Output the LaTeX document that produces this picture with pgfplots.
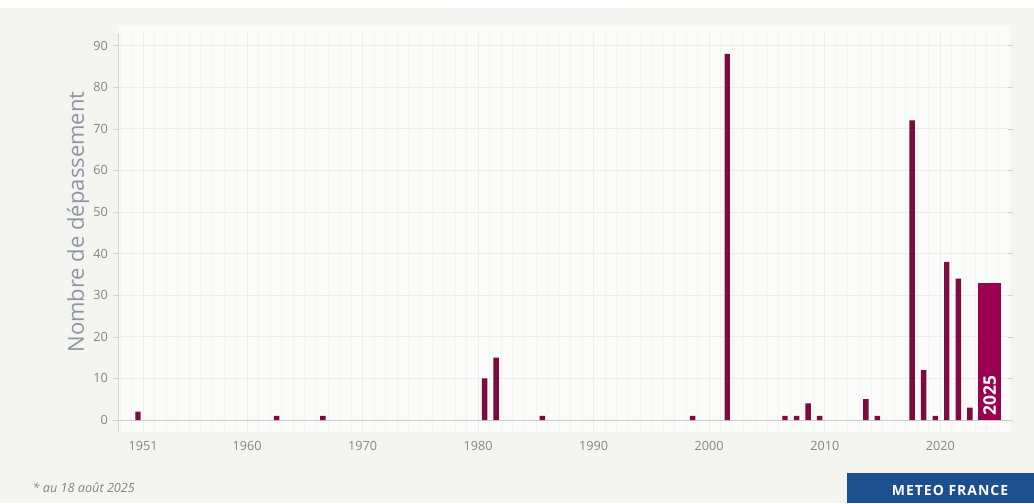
\documentclass[border=0pt]{standalone}
\usepackage{fontspec}
\setmainfont{Open Sans}
\usepackage{pgfplots}
\pgfplotsset{compat=1.18}
\definecolor{barc}{HTML}{7D0B3E}
\definecolor{barhl}{HTML}{9B0050}
\definecolor{mfblue}{HTML}{1D4F8E}
\definecolor{pagebg}{HTML}{F4F4F0}
\definecolor{plotbg}{HTML}{FBFBF9}
\definecolor{ticktxt}{HTML}{858585}
\definecolor{ylab}{HTML}{8E96A2}

\pgfplotstableread{
year value
1951 2
1963 1
1967 1
1981 10
1982 15
1986 1
1999 1
2002 88
2007 1
2008 1
2009 4
2010 1
2014 5
2015 1
2018 72
2019 12
2020 1
2021 38
2022 34
2023 3
}\datatable

\begin{document}
\begin{tikzpicture}[x=0.75pt,y=0.75pt]
\fill[pagebg] (0,0) rectangle (1034,503);
\fill[white] (0,495) rectangle (1034,503);
\fill[gray!8] (450,483) rectangle (618,495);
\fill[plotbg] (118,70.5) rectangle (1010,478);
\begin{axis}[at={(88.5pt,52.875pt)}, anchor=south west, scale only axis,
  width=667.5pt, height=299.6pt,
  xmin=1949.27, xmax=2026.3, ymin=-3, ymax=93,
  ytick={0,10,...,90},
  xtick={1951.44,1960.44,1970.44,1980.44,1990.44,2000.44,2010.44,2020.44},
  xticklabels={1951,1960,1970,1980,1990,2000,2010,2020},
  minor xtick={1949.44,1950.44,...,2026.44},
  axis line style={draw=none},
  ymajorgrids, xmajorgrids, xminorgrids,
  major grid style={draw=gray!14, line width=0.6pt},
  minor grid style={draw=gray!9, line width=0.6pt},
  xtick style={draw=none}, minor tick length=0pt,
  ytick style={draw=gray!35}, tick align=outside, major tick length=4pt,
  ticklabel style={font=\fontsize{9.5}{11}\selectfont, text=ticktxt},
  /pgf/number format/assume math mode=true,
  xticklabel style={yshift=1pt},
  clip=false,
]
\draw[gray!35, line width=0.6pt] (axis cs:1949.27,-3) -- (axis cs:1949.27,93);
\draw[gray!40, line width=0.6pt] (axis cs:1949.27,0) -- (axis cs:2026.3,0);
\addplot[ybar, bar width=0.47, fill=barc, draw=none] table[x=year, y=value] {\datatable};
\addplot[ybar, bar width=2, fill=barhl, draw=none] coordinates {(2024.72,33)};
\node[rotate=90, anchor=west, text=white, font=\bfseries\fontsize{13}{14}\selectfont, inner sep=1pt]
  at (axis cs:2024.72,0.8) {2025};
\end{axis}
\node[rotate=90, text=ylab, font=\fontsize{16.5}{18}\selectfont] at (78,281) {Nombre de dépassement};
\node[anchor=west, text=ticktxt, font=\itshape\fontsize{9.5}{11}\selectfont] at (28,15) {* au 18 août 2025};
\fill[mfblue] (847,0) rectangle (1034,30);
\node[text=white, font=\bfseries\fontsize{10.5}{12}\selectfont] at (950,13) {\addfontfeature{LetterSpace=7}METEO FRANCE};
\end{tikzpicture}
\end{document}
